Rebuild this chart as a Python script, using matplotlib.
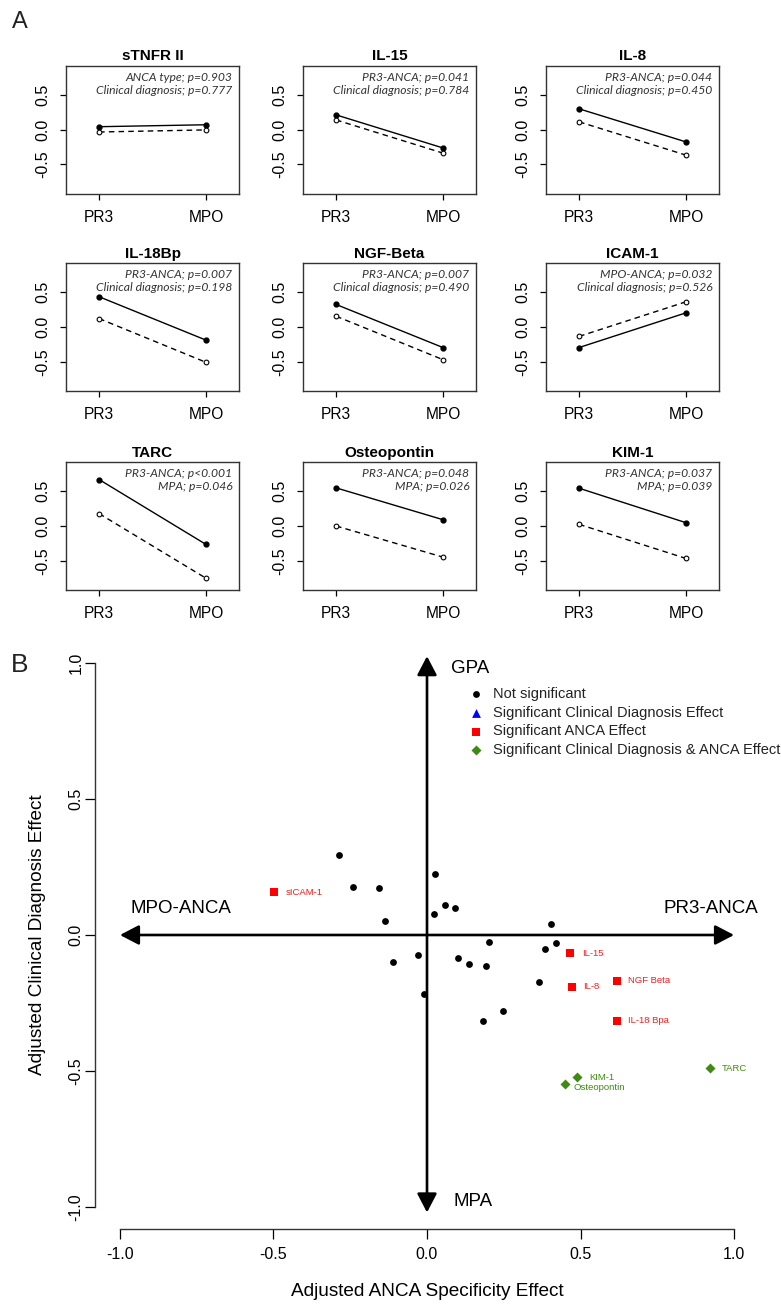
import matplotlib
matplotlib.use("Agg")
import matplotlib.pyplot as plt

plt.rcParams['font.family'] = ['Liberation Sans', 'DejaVu Sans']

# ---------------- Panel A data ----------------
markers = ["sTNFR II", "IL-15", "IL-8", "IL-18Bp", "NGF-Beta", "ICAM-1",
           "TARC", "Osteopontin", "KIM-1"]
groups = ["PR3", "MPO"]
solid_pr3 = [0.043, 0.213, 0.300, 0.435, 0.324, -0.295, 0.668, 0.548, 0.543]
solid_mpo = [0.071, -0.262, -0.175, -0.188, -0.295, 0.203, -0.264, 0.091, 0.048]
dashed_pr3 = [-0.033, 0.140, 0.113, 0.121, 0.155, -0.135, 0.178, 0.000, 0.024]
dashed_mpo = [-0.003, -0.336, -0.365, -0.507, -0.469, 0.362, -0.750, -0.447, -0.466]
ann_line1 = ["ANCA type; p=0.903", "PR3-ANCA; p=0.041", "PR3-ANCA; p=0.044",
             "PR3-ANCA; p=0.007", "PR3-ANCA; p=0.007", "MPO-ANCA; p=0.032",
             "PR3-ANCA; p<0.001", "PR3-ANCA; p=0.048", "PR3-ANCA; p=0.037"]
ann_line2 = ["Clinical diagnosis; p=0.777", "Clinical diagnosis; p=0.784",
             "Clinical diagnosis; p=0.450", "Clinical diagnosis; p=0.198",
             "Clinical diagnosis; p=0.490", "Clinical diagnosis; p=0.526",
             "MPA; p=0.046", "MPA; p=0.026", "MPA; p=0.039"]
a_yticks = [-0.5, 0.0, 0.5]

# ---------------- Panel B data ----------------
ns_x = [-0.288, -0.242, -0.156, -0.136, 0.026, 0.058, 0.090, 0.023, 0.403, 0.202,
        0.421, 0.384, -0.030, -0.111, 0.100, 0.138, 0.192, 0.364, -0.009, 0.246, 0.182]
ns_y = [0.293, 0.178, 0.174, 0.050, 0.223, 0.109, 0.098, 0.076, 0.040, -0.027,
        -0.029, -0.050, -0.072, -0.100, -0.086, -0.105, -0.114, -0.172, -0.217, -0.278, -0.316]
clin_x = []
clin_y = []
anca_labels = ["sICAM-1", "IL-15", "IL-8", "NGF Beta", "IL-18 Bpa"]
anca_x = [-0.498, 0.467, 0.472, 0.618, 0.618]
anca_y = [0.158, -0.067, -0.190, -0.169, -0.316]
both_labels = ["TARC", "KIM-1", "Osteopontin"]
both_x = [0.923, 0.490, 0.451]
both_y = [-0.489, -0.523, -0.547]
legend_labels = ["Not significant", "Significant Clinical Diagnosis Effect",
                 "Significant ANCA Effect", "Significant Clinical Diagnosis & ANCA Effect"]
b_ticks = [-1.0, -0.5, 0.0, 0.5, 1.0]

W, H = 781, 1305
fig = plt.figure(figsize=(W / 100, H / 100), dpi=100)


def px_axes(left, top, right, bottom):
    return fig.add_axes([left / W, 1 - bottom / H, (right - left) / W, (bottom - top) / H])


col_left = [66, 303, 546]
col_w = 173
row_top = [65.7, 263, 462]
row_h = 128

for i, name in enumerate(markers):
    r, c = divmod(i, 3)
    ax = px_axes(col_left[c], row_top[r], col_left[c] + col_w, row_top[r] + row_h)
    xs = [1, 2]
    ax.plot(xs, [solid_pr3[i], solid_mpo[i]], color='black', lw=1.0,
            marker='o', ms=3.5, mfc='black', mec='black')
    ax.plot(xs, [dashed_pr3[i], dashed_mpo[i]], color='black', lw=1.0,
            ls=(0, (4, 3)), marker='o', ms=3.4, mfc='white', mec='black', mew=0.8)
    ax.set_xlim(0.69, 2.31)
    ax.set_ylim(-0.92, 0.92)
    ax.set_xticks(xs)
    ax.set_xticklabels(groups)
    ax.set_yticks(a_yticks)
    ax.set_yticklabels(["-0.5", "0.0", "0.5"])
    for sp in ax.spines.values():
        sp.set_linewidth(1.0)
        sp.set_color('#333333')
    ax.tick_params(axis='x', length=4.5, width=0.9, pad=7, labelsize=11.2)
    ax.tick_params(axis='y', length=4.0, width=0.9, pad=7, labelsize=11.5)
    for lab in ax.get_yticklabels():
        lab.set_rotation(90)
        lab.set_va('center')
    ax.text(0.5, 1 + 5.3 / row_h, name, transform=ax.transAxes, ha='center',
            va='baseline', fontsize=11, fontweight='bold')
    ax.text(0.962, 1 - 11.6 / row_h, ann_line1[i], transform=ax.transAxes, ha='right',
            va='center', fontsize=8.7, style='italic', family=['Lato', 'DejaVu Sans'],
            color='#333333')
    ax.text(0.962, 1 - 24.3 / row_h, ann_line2[i], transform=ax.transAxes, ha='right',
            va='center', fontsize=8.7, style='italic', family=['Lato', 'DejaVu Sans'],
            color='#333333')

fig.text(20 / W, 1 - 22 / H, "A", ha='center', va='center', fontsize=17, color='#222222')
fig.text(20 / W, 1 - 665 / H, "B", ha='center', va='center', fontsize=19, color='#222222')

# ---------------- Panel B ----------------
axb = px_axes(95.4, 641.2, 758.6, 1228.8)
axb.set_xlim(-1.08, 1.08)
axb.set_ylim(-1.08, 1.08)
for s in ['top', 'right']:
    axb.spines[s].set_visible(False)
axb.spines['left'].set_bounds(-1, 1)
axb.spines['bottom'].set_bounds(-1, 1)
for s in ['left', 'bottom']:
    axb.spines[s].set_linewidth(1.0)
    axb.spines[s].set_color('#333333')
axb.set_xticks(b_ticks)
axb.set_yticks(b_ticks)
axb.set_xticklabels(["-1.0", "-0.5", "0.0", "0.5", "1.0"])
axb.set_yticklabels(["-1.0", "-0.5", "0.0", "0.5", "1.0"])
axb.tick_params(axis='x', length=7.5, width=0.9, pad=5.5, labelsize=11.5)
axb.tick_params(axis='y', length=7.5, width=0.9, pad=1.0, labelsize=11.5)
for lab in axb.get_yticklabels():
    lab.set_rotation(90)
    lab.set_va('center')

arrow_kw = dict(arrowstyle='<|-|>,head_length=1.15,head_width=0.6', mutation_scale=10,
                lw=1.9, color='black', shrinkA=0, shrinkB=0)
axb.annotate('', xy=(1.0, 0), xytext=(-1.0, 0), arrowprops=arrow_kw, zorder=1)
axb.annotate('', xy=(0, 1.025), xytext=(0, -1.02), arrowprops=arrow_kw, zorder=1)

axb.text(0.078, 0.978, "GPA", ha='left', va='center', fontsize=13.5)
axb.text(0.085, -0.978, "MPA", ha='left', va='center', fontsize=13.5)
axb.text(-0.967, 0.096, "MPO-ANCA", ha='left', va='center', fontsize=13.5)
axb.text(1.078, 0.096, "PR3-ANCA", ha='right', va='center', fontsize=13.5)

green = '#3f8a12'
sc_ns = axb.scatter(ns_x, ns_y, s=24, color='black', marker='o', zorder=3, linewidths=0)
sc_clin = axb.scatter(clin_x, clin_y, s=40, color='blue', marker='^', zorder=3, linewidths=0)
sc_anca = axb.scatter(anca_x, anca_y, s=40, color='#ff0000', marker='s', zorder=3, linewidths=0)
sc_both = axb.scatter(both_x, both_y, s=26, color=green, marker='D', zorder=3, linewidths=0)

for lab, x, y in zip(anca_labels, anca_x, anca_y):
    axb.annotate(lab, (x, y), xytext=(8.4, 0), textcoords='offset points',
                 ha='left', va='center', fontsize=6.8, color='#ff1a1a')
for lab, x, y in zip(both_labels, both_x, both_y):
    off = (5.8, -2.6) if lab == "Osteopontin" else (8.4, 0)
    axb.annotate(lab, (x, y), xytext=off, textcoords='offset points',
                 ha='left', va='center', fontsize=6.8, color=green)

axb.set_xlabel("Adjusted ANCA Specificity Effect", fontsize=13.7)
axb.set_ylabel("Adjusted Clinical Diagnosis Effect", fontsize=13.7)
axb.xaxis.set_label_coords(0.5, -(1292 - 1228.8) / 587.6)
axb.xaxis.label.set_va('center')
axb.yaxis.set_label_coords((38 - 95.4) / 663.2, 0.5)
axb.yaxis.label.set_va('center')

leg = axb.legend([sc_ns, sc_clin, sc_anca, sc_both], legend_labels, loc='upper left',
                 bbox_to_anchor=(470.2 / W, 1 - 687 / H), bbox_transform=fig.transFigure,
                 frameon=False, fontsize=10.5, borderpad=0, borderaxespad=0,
                 handlelength=0.8, handletextpad=0.77, labelspacing=0.32, scatterpoints=1)
for t in leg.get_texts():
    t.set_color('#222222')

fig.savefig("out.png", dpi=100)
